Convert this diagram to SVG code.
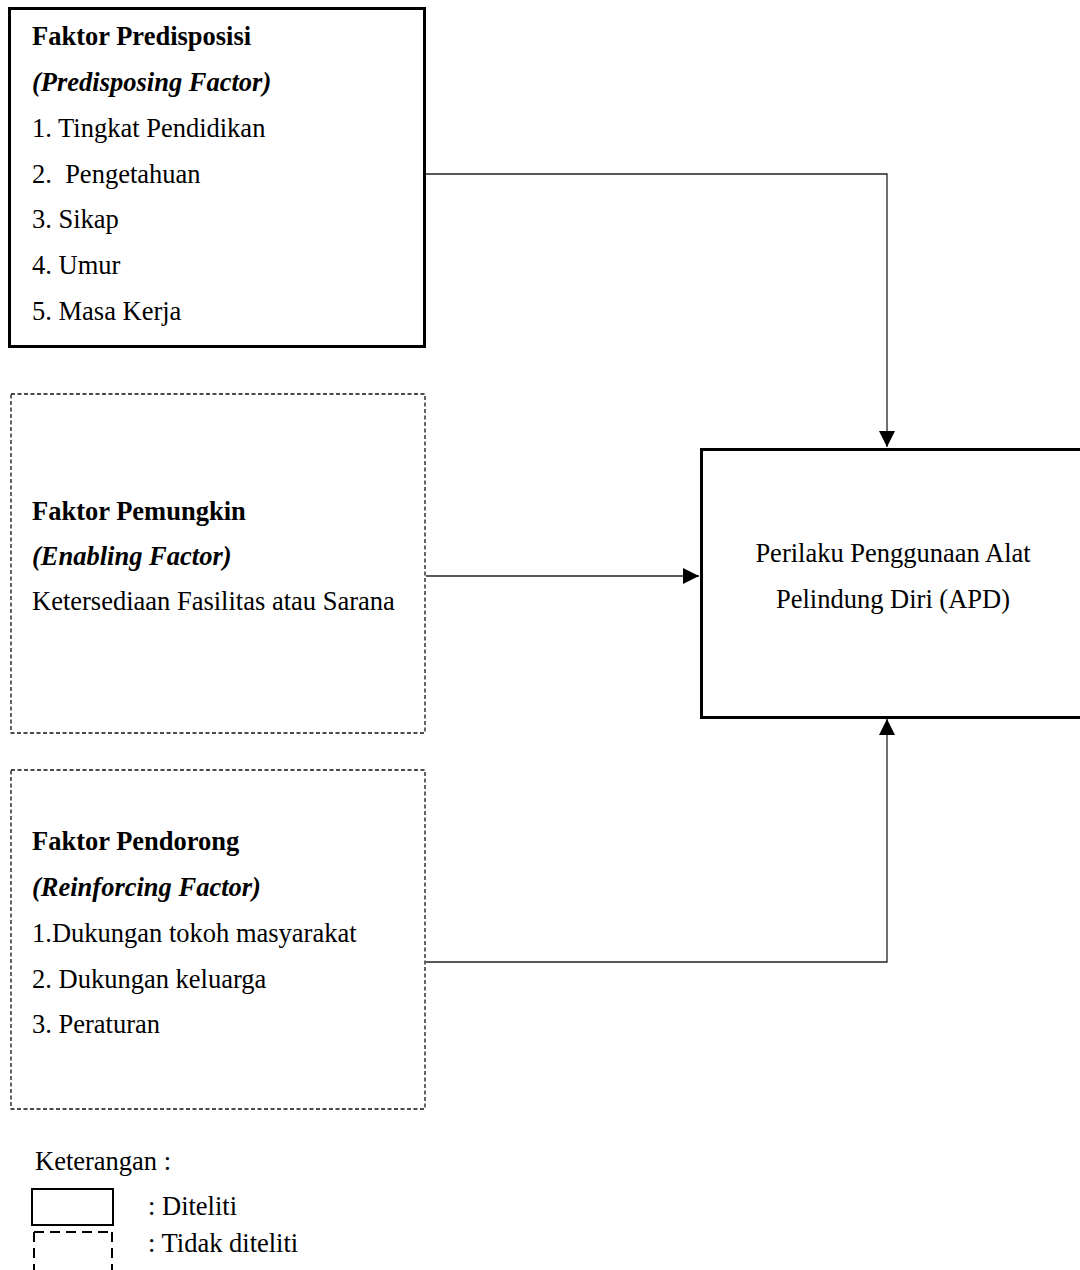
<svg xmlns="http://www.w3.org/2000/svg" width="1080" height="1270" viewBox="0 0 1080 1270">
  <style>
    text { font-family: "Liberation Serif", "Times New Roman", serif; font-size: 26.5px; fill: #000; }
    .b { font-weight: bold; }
    .bi { font-weight: bold; font-style: italic; }
    .solid { fill: #fff; stroke: #000; stroke-width: 3; }
    .dashed { fill: #fff; stroke: #111; stroke-width: 1.3; stroke-dasharray: 4 2.5; }
    .conn { fill: none; stroke: #222; stroke-width: 1.3; }
  </style>
  <defs>
    <marker id="arrow" markerUnits="userSpaceOnUse" markerWidth="16" markerHeight="16" viewBox="0 0 16 16" refX="16" refY="8" orient="auto">
      <path d="M0,0 L16,8 L0,16 Z" fill="#000"/>
    </marker>
  </defs>

  <!-- connectors -->
  <g id="connectors">
    <path class="conn" d="M426,174 H887 V447" marker-end="url(#arrow)"/>
    <path class="conn" d="M426,576 H699" marker-end="url(#arrow)"/>
    <path class="conn" d="M426,962 H887 V719" marker-end="url(#arrow)"/>
  </g>

  <!-- predisposing factors (studied) -->
  <g id="node-predisposisi">
    <rect class="solid" x="9.5" y="8.5" width="415" height="338"/>
    <text class="b" x="32" y="45">Faktor Predisposisi</text>
    <text class="bi" x="32" y="91">(Predisposing Factor)</text>
    <text x="32" y="137">1. Tingkat Pendidikan</text>
    <text x="32" y="183" xml:space="preserve">2.  Pengetahuan</text>
    <text x="32" y="228">3. Sikap</text>
    <text x="32" y="274">4. Umur</text>
    <text x="32" y="320">5. Masa Kerja</text>
  </g>

  <!-- enabling factors (not studied) -->
  <g id="node-pemungkin">
    <rect class="dashed" x="11" y="394" width="414" height="339"/>
    <text class="b" x="32" y="520">Faktor Pemungkin</text>
    <text class="bi" x="32" y="565">(Enabling Factor)</text>
    <text x="32" y="610">Ketersediaan Fasilitas atau Sarana</text>
  </g>

  <!-- reinforcing factors (not studied) -->
  <g id="node-pendorong">
    <rect class="dashed" x="11" y="770" width="414" height="339"/>
    <text class="b" x="32" y="850">Faktor Pendorong</text>
    <text class="bi" x="32" y="896">(Reinforcing Factor)</text>
    <text x="32" y="942">1.Dukungan tokoh masyarakat</text>
    <text x="32" y="988">2. Dukungan keluarga</text>
    <text x="32" y="1033">3. Peraturan</text>
  </g>

  <!-- outcome: PPE use behaviour -->
  <g id="node-apd">
    <rect class="solid" x="701.5" y="449.5" width="390" height="268"/>
    <text x="893" y="562" text-anchor="middle">Perilaku Penggunaan Alat</text>
    <text x="893" y="608" text-anchor="middle">Pelindung Diri (APD)</text>
  </g>

  <!-- legend -->
  <g id="legend">
    <text x="35" y="1170">Keterangan :</text>
    <rect x="32" y="1189" width="81" height="36" fill="#fff" stroke="#000" stroke-width="2"/>
    <text x="148" y="1215">: Diteliti</text>
    <path d="M34,1232 H112 M34,1232 V1275 M112,1232 V1275" fill="none" stroke="#000" stroke-width="2" stroke-dasharray="10 6"/>
    <text x="148" y="1252">: Tidak diteliti</text>
  </g>
</svg>
